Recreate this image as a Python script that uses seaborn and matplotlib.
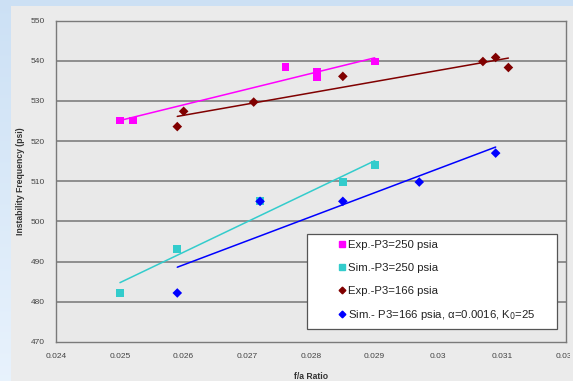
import numpy as np
import pandas as pd
import matplotlib
matplotlib.use("Agg")
import matplotlib.pyplot as plt
from matplotlib.patches import Rectangle
from matplotlib.lines import Line2D
from matplotlib.transforms import Bbox, TransformedBbox
from matplotlib.ticker import MultipleLocator, FixedLocator
import seaborn as sns

# Measured instability frequency vs. fuel/air ratio
exp250_x = [0.0250, 0.0252, 0.0276, 0.0281, 0.0281, 0.0290]
exp250_y = [525.1, 525.1, 538.4, 537.1, 535.9, 539.8]

sim250_x = [0.0250, 0.0259, 0.0272, 0.0285, 0.0290]
sim250_y = [482.1, 493.2, 505.0, 509.9, 514.0]

exp166_x = [0.0259, 0.0260, 0.0271, 0.0285, 0.0307, 0.0309, 0.0311]
exp166_y = [523.6, 527.4, 529.7, 536.1, 539.8, 540.8, 538.3]

sim166_x = [0.0259, 0.0272, 0.0285, 0.0297, 0.0309]
sim166_y = [482.2, 505.0, 505.0, 509.8, 517.0]

series_names = [
    "Exp.-P3=250 psia",
    "Sim.-P3=250 psia",
    "Exp.-P3=166 psia",
    "Sim.- P3=166 psia, \u03b1=0.0016, K$_0$=25",
]

x_ticks = [0.024, 0.025, 0.026, 0.027, 0.028, 0.029, 0.030, 0.031, 0.032]
x_tick_labels = ["0.024", "0.025", "0.026", "0.027", "0.028", "0.029", "0.03", "0.031", "0.032"]
y_ticks = [470, 480, 490, 500, 510, 520, 530, 540, 550]

sns.set_style("white")
plt.rcParams["font.family"] = ["Liberation Sans", "DejaVu Sans"]

W, H = 573, 381
fig = plt.figure(figsize=(W / 100, H / 100), dpi=100)

# slide background gradient and chart area
bg = fig.add_axes([0, 0, 1, 1], zorder=-10)
grad = np.linspace(0, 1, 256).reshape(-1, 1)
top_c = np.array([0.80, 0.88, 0.96])
bot_c = np.array([0.91, 0.95, 0.99])
img = top_c[None, None, :] * (1 - grad[:, :, None]) + bot_c[None, None, :] * grad[:, :, None]
bg.imshow(img, aspect="auto", extent=[0, 1, 0, 1], origin="upper")
bg.add_patch(Rectangle((11.3 / W, 0), 1, 1 - 5.7 / H, facecolor="#ebebeb",
                       edgecolor="none", transform=bg.transAxes))
bg.set_xlim(0, 1)
bg.set_ylim(0, 1)
bg.axis("off")

left, right = 56.3 / W, 565.7 / W
top, bottom = 1 - 20.5 / H, 1 - 342.0 / H
ax = fig.add_axes([left, bottom, right - left, top - bottom])
ax.set_facecolor("#e9e9e9")

colors = ["#ff00ff", "#33cccc", "#800000", "#0000ff"]
markers = ["s", "s", "D", "D"]
sizes = [32, 32, 24, 24]
data = [(exp250_x, exp250_y), (sim250_x, sim250_y),
        (exp166_x, exp166_y), (sim166_x, sim166_y)]

# linear trendlines over each series' range
for (xs, ys), c in zip(data, colors):
    df = pd.DataFrame({"x": xs, "y": ys})
    sns.regplot(data=df, x="x", y="y", scatter=False, ci=None, truncate=True,
                color=c, line_kws={"lw": 1.1, "zorder": 3}, ax=ax)

for (xs, ys), c, m, s in zip(data, colors, markers, sizes):
    df = pd.DataFrame({"x": xs, "y": ys})
    sns.scatterplot(data=df, x="x", y="y", color=c, marker=m, s=s,
                    edgecolor="none", linewidth=0, zorder=4, ax=ax, legend=False)

ax.set_xlim(0.024, 0.032)
ax.set_ylim(470, 550)
ax.xaxis.set_major_locator(FixedLocator(x_ticks))
ax.set_xticklabels(x_tick_labels)
ax.yaxis.set_major_locator(FixedLocator(y_ticks))
ax.xaxis.set_minor_locator(MultipleLocator(0.0002))
ax.yaxis.set_minor_locator(MultipleLocator(2))

for gy in y_ticks[1:-1]:
    ax.axhline(gy, color="#7f7f7f", lw=1.2, zorder=1)

ax.tick_params(axis="both", which="both", direction="in", color="#707070",
               length=2.5, width=0.8, labelsize=6, labelcolor="#444444")
ax.tick_params(axis="x", which="major", pad=8)
ax.tick_params(axis="y", which="major", pad=8)
ax.tick_params(top=False, right=False, which="both")

for sp in ax.spines.values():
    sp.set_color("#7a7a7a")
    sp.set_linewidth(1.0)

ax.set_xlabel("f/a Ratio", fontsize=6.2, fontweight="bold", color="#333333", labelpad=8.5)
ax.set_ylabel("Instability Frequency (psi)", fontsize=6.2, fontweight="bold",
              color="#333333", labelpad=4.5)

# legend box
def ax_frac_x(px):
    return (px - 56.3) / (565.7 - 56.3)

def ax_frac_y(py):
    return (342.0 - py) / (342.0 - 20.5)

x0, x1 = ax_frac_x(307.3), ax_frac_x(556.7)
y0, y1 = ax_frac_y(328.7), ax_frac_y(234.0)
ax.add_patch(Rectangle((x0, y0), x1 - x0, y1 - y0, transform=ax.transAxes,
                       facecolor="white", edgecolor="#555555", lw=0.9, zorder=6))

handles = [Line2D([], [], ls="none", marker=m, color=c, markersize=ms)
           for c, m, ms in zip(colors, markers, [4.2, 4.2, 3.4, 3.4])]
ax.legend(handles, series_names, loc="upper left",
          bbox_to_anchor=(ax_frac_x(338.5), ax_frac_y(240.0)),
          frameon=False, fontsize=8.2, handlelength=0.6, handletextpad=0.25,
          borderpad=0, borderaxespad=0, labelspacing=1.12,
          labelcolor="#222222").set_zorder(7)

# the last x tick label runs past the chart area edge and is cut there
fig.canvas.draw()
clip = TransformedBbox(Bbox([[0, 0], [569.5 / W, 1]]), fig.transFigure)
last = ax.get_xticklabels()[-1]
last.set_clip_box(clip)
last.set_clip_on(True)

fig.savefig("out.png", dpi=100)
